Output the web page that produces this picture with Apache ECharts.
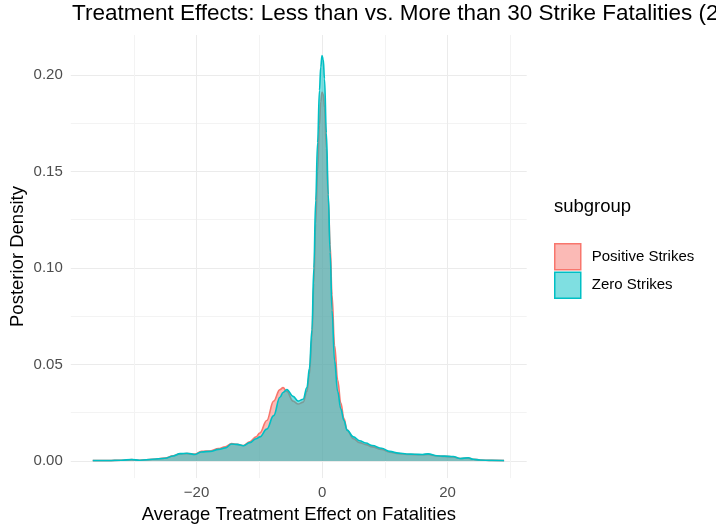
<!DOCTYPE html>
<html>
<head>
<meta charset="utf-8">
<script src="https://cdn.jsdelivr.net/npm/echarts@6/dist/echarts.min.js"></script>
<style>html,body{margin:0;padding:0;background:#fff}#c{width:716px;height:529px}</style>
</head>
<body>
<div id="c"></div>
<script>
// ---- data ----
const categories = ['Positive Strikes', 'Zero Strikes'];
const effectGrid = [-36.5, -34, -32, -30.3, -29, -27, -25, -23.7, -22.6, -21.5, -20.2, -19.2, -17.8, -16.5, -15.4, -14.4, -13.5, -12.5, -11.5, -10.5, -9.9, -8.8, -7.7, -6.7, -6.2, -5.6, -4.6, -3.8, -3.0, -2.4, -2.0, -1.6, -1.3, -1.0, -0.7, -0.4, -0.2, 0.0, 0.2, 0.4, 0.7, 1.0, 1.3, 1.6, 2.0, 2.5, 3.0, 3.5, 4.0, 5.0, 6.0, 7.0, 8.0, 9.5, 10.8, 12.2, 13.5, 14.8, 16.0, 16.9, 18.3, 19.5, 20.9, 22.0, 23.3, 24.1, 25.2, 27, 29];
const densityPositive = [0.0002, 0.0002, 0.0004, 0.0007, 0.0004, 0.0009, 0.0015, 0.0027, 0.0037, 0.0038, 0.0036, 0.0050, 0.0052, 0.0064, 0.0074, 0.0090, 0.0086, 0.0080, 0.0100, 0.0125, 0.0145, 0.0210, 0.0310, 0.0370, 0.0380, 0.0360, 0.0310, 0.0295, 0.0305, 0.0360, 0.0450, 0.0640, 0.0920, 0.1230, 0.1500, 0.1740, 0.1860, 0.1910, 0.1900, 0.1830, 0.1620, 0.1360, 0.1120, 0.0860, 0.0600, 0.0420, 0.0300, 0.0220, 0.0160, 0.0115, 0.0095, 0.0085, 0.0073, 0.0060, 0.0046, 0.0038, 0.0034, 0.0033, 0.0032, 0.0034, 0.0026, 0.0024, 0.0021, 0.0013, 0.0015, 0.0009, 0.0005, 0.0003, 0.0002];
const densityZero = [0.0002, 0.0002, 0.0004, 0.0008, 0.0004, 0.0009, 0.0014, 0.0026, 0.0038, 0.0040, 0.0034, 0.0047, 0.0050, 0.0060, 0.0068, 0.0088, 0.0086, 0.0079, 0.0095, 0.0115, 0.0125, 0.0165, 0.0235, 0.0330, 0.0355, 0.0370, 0.0335, 0.0310, 0.0320, 0.0380, 0.0480, 0.0680, 0.1000, 0.1350, 0.1650, 0.1920, 0.2040, 0.2100, 0.2080, 0.1980, 0.1700, 0.1380, 0.1080, 0.0780, 0.0520, 0.0360, 0.0270, 0.0210, 0.0160, 0.0125, 0.0105, 0.0093, 0.0080, 0.0066, 0.0050, 0.0041, 0.0036, 0.0035, 0.0034, 0.0037, 0.0027, 0.0025, 0.0023, 0.0013, 0.0017, 0.0009, 0.0005, 0.0003, 0.0002];
const xTickValues = [-20, 0, 20];
const xTickLabels = ['\u221220', '0', '20'];
const yTickValues = [0, 0.05, 0.10, 0.15, 0.20];
const yTickLabels = ['0.00', '0.05', '0.10', '0.15', '0.20'];

// ---- chart ----
const FONT = 'Liberation Sans, Arial, sans-serif';
const lineColors = ['#F8766D', '#00BFC4'];
const fillColors = ['rgba(248,118,109,0.5)', 'rgba(0,191,196,0.5)'];
const seriesValues = [densityPositive, densityZero];

function lookup(values, labels, v) {
  for (let i = 0; i < values.length; i++) if (Math.abs(values[i] - v) < 1e-6) return labels[i];
  return '';
}

const chart = echarts.init(document.getElementById('c'), null, {renderer: 'canvas'});
const XMIN = -40, XMAX = 32.6;
const LEFT = 70.8, RIGHT = 189.3;
const MAJ = '#EBEBEB', MIN = '#F3F3F3', NONE = 'rgba(0,0,0,0)';

chart.setOption({
  animation: false,
  backgroundColor: '#fff',
  title: [
    {text: 'Treatment Effects: Less than vs. More than 30 Strike Fatalities (2', left: 72, top: 2, padding: 0,
     textStyle: {fontFamily: FONT, fontSize: 22.5, fontWeight: 'normal', color: '#000'}},
    {text: 'subgroup', left: 554, top: 197, padding: 0,
     textStyle: {fontFamily: FONT, fontSize: 18.5, fontWeight: 'normal', color: '#000'}}
  ],
  legend: {
    orient: 'vertical', left: 554, top: 243, padding: 0, itemWidth: 26, itemHeight: 26, itemGap: 1,
    textStyle: {fontFamily: FONT, fontSize: 15, color: '#000', padding: [0, 0, 0, 6]},
    data: categories.map((c, i) => ({name: c, icon: 'rect',
      itemStyle: {color: fillColors[i], borderColor: lineColors[i], borderWidth: 1.5}}))
  },
  grid: [
    {left: LEFT, right: RIGHT, top: 35, bottom: 68},
    {left: LEFT, right: RIGHT, top: 35, bottom: 48}
  ],
  xAxis: [
    {type: 'value', gridIndex: 0, min: XMIN, max: XMAX, show: false, splitLine: {show: false}},
    {type: 'value', gridIndex: 1, min: XMIN, max: XMAX, interval: 10,
     axisLine: {show: false}, axisTick: {show: false},
     axisLabel: {margin: 7, color: '#4D4D4D', fontFamily: FONT, fontSize: 15,
       formatter: v => lookup(xTickValues, xTickLabels, v), showMinLabel: true, showMaxLabel: true},
     splitLine: {show: true, lineStyle: {width: 1, color: [NONE, MIN, MAJ, MIN, MAJ, MIN, MAJ, MIN, NONE, NONE]}},
     name: 'Average Treatment Effect on Fatalities', nameLocation: 'middle', nameGap: 25,
     nameTextStyle: {fontFamily: FONT, fontSize: 18.5, color: '#000'}}
  ],
  yAxis: [
    {type: 'value', gridIndex: 0, min: 0, max: 0.2207, interval: 0.025,
     axisLine: {show: false}, axisTick: {show: false},
     axisLabel: {margin: 8, color: '#4D4D4D', fontFamily: FONT, fontSize: 15,
       formatter: v => lookup(yTickValues, yTickLabels, v)},
     splitLine: {show: true, showMaxLine: false, lineStyle: {width: 1, color: [MAJ, MIN]}}},
    {type: 'value', gridIndex: 1, min: 0, max: 1, axisLine: {show: false}, axisTick: {show: false},
     axisLabel: {show: false}, splitLine: {show: false},
     name: 'Posterior Density', nameLocation: 'middle', nameGap: 44,
     nameTextStyle: {fontFamily: FONT, fontSize: 18.5, color: '#000'}}
  ],
  series: categories.map((c, i) => ({
    name: c, type: 'line', xAxisIndex: 0, yAxisIndex: 0,
    data: effectGrid.map((x, k) => [x, seriesValues[i][k]]),
    symbol: 'none', showSymbol: false, smooth: 0.4, smoothMonotone: 'x',
    lineStyle: {color: lineColors[i], width: 1.6},
    itemStyle: {color: lineColors[i]},
    areaStyle: {color: fillColors[i], opacity: 1, origin: 'start'},
    z: 2 + i
  }))
});
</script>
</body>
</html>
